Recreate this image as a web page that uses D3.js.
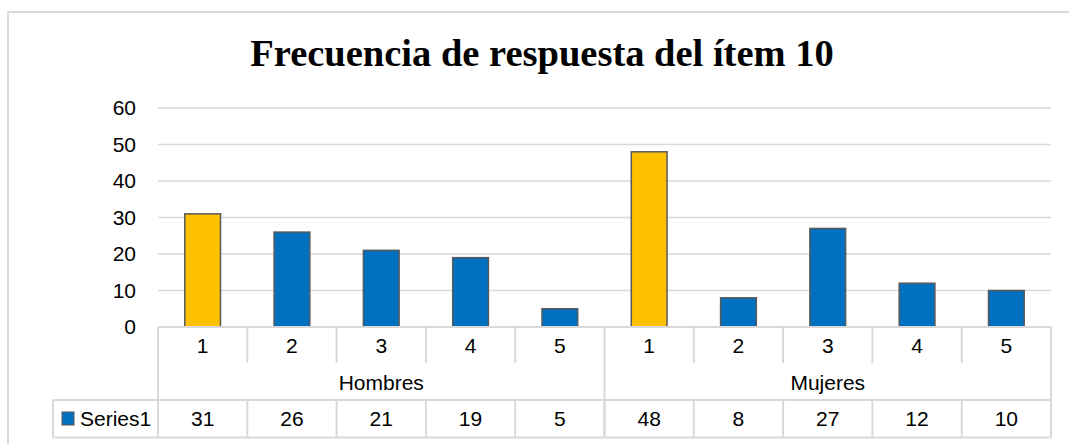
<!DOCTYPE html>
<html>
<head>
<meta charset="utf-8">
<script src="https://cdn.jsdelivr.net/npm/d3@7"></script>
<style>
  body { margin: 0; background: #fff; }
  text { font-family: "Liberation Sans", Arial, sans-serif; fill: #000; }
</style>
</head>
<body>
<div id="chart"></div>
<script>
// datos del gráfico
const groups = ["Hombres", "Mujeres"];
const items = ["1", "2", "3", "4", "5"];
const hombres = [31, 26, 21, 19, 5];
const mujeres = [48, 8, 27, 12, 10];
const highlightItem = "1";
const yTicks = [0, 10, 20, 30, 40, 50, 60];
const seriesName = "Series1";
const title = "Frecuencia de respuesta del ítem 10";

const width = 1069;
const height = 444;
const plotLeft = 158, plotRight = 1051;
const plotTop = 108, base = 327;
const row1 = 363, row2 = 400, row3 = 437.5;
const legendLeft = 53;
const gridColor = "#d9d9d9";
const labelSize = "21px";

const data = [];
groups.forEach((g, gi) => {
  const vals = gi === 0 ? hombres : mujeres;
  items.forEach((it, i) => data.push({ group: g, item: it, key: g + "-" + it, value: vals[i] }));
});

const svg = d3.select("#chart").append("svg")
  .attr("width", width)
  .attr("height", height);

// borde exterior
svg.append("rect")
  .attr("x", 8).attr("y", 12)
  .attr("width", 1100).attr("height", 500)
  .attr("fill", "none")
  .attr("stroke", gridColor)
  .attr("stroke-width", 2);

svg.append("text")
  .attr("x", 542).attr("y", 66)
  .attr("text-anchor", "middle")
  .style("font-family", "'Liberation Serif', 'Times New Roman', serif")
  .style("font-weight", "bold")
  .style("font-size", "38.5px")
  .text(title);

const x = d3.scaleBand()
  .domain(data.map(d => d.key))
  .range([plotLeft, plotRight])
  .paddingInner(0.6)
  .paddingOuter(0.3);
const step = x.step();

const y = d3.scaleLinear().domain([0, 60]).range([base, plotTop]);

// líneas de cuadrícula
svg.append("g")
  .selectAll("line")
  .data(yTicks.filter(t => t > 0))
  .join("line")
  .attr("x1", plotLeft).attr("x2", plotRight)
  .attr("y1", d => y(d)).attr("y2", d => y(d))
  .attr("stroke", gridColor)
  .attr("stroke-width", 1.5);

// eje y
const yAxis = svg.append("g")
  .attr("transform", `translate(${plotLeft},0)`)
  .call(d3.axisLeft(y).tickValues(yTicks).tickSize(0).tickPadding(22));
yAxis.select(".domain").remove();
yAxis.selectAll("text")
  .style("font-size", labelSize)
  .style("font-family", "'Liberation Sans', Arial, sans-serif");

// barras
svg.append("g")
  .selectAll("rect")
  .data(data)
  .join("rect")
  .attr("x", d => x(d.key))
  .attr("width", x.bandwidth())
  .attr("y", d => y(d.value))
  .attr("height", d => y(0) - y(d.value))
  .attr("fill", d => d.item === highlightItem ? "#ffc000" : "#0070c0")
  .attr("stroke", "#595959")
  .attr("stroke-width", 1.5);

// tabla de datos
const table = svg.append("g")
  .attr("stroke", gridColor)
  .attr("stroke-width", 2);

const edge = d => x(d.key) - (step - x.bandwidth()) / 2;

table.append("line").attr("x1", plotLeft).attr("x2", plotRight).attr("y1", base).attr("y2", base);
table.append("line").attr("x1", legendLeft).attr("x2", plotRight).attr("y1", row2).attr("y2", row2);
table.append("line").attr("x1", legendLeft).attr("x2", plotRight).attr("y1", row3).attr("y2", row3);
table.append("line").attr("x1", legendLeft).attr("x2", legendLeft).attr("y1", row2).attr("y2", row3);
table.append("line").attr("x1", plotRight).attr("x2", plotRight).attr("y1", base).attr("y2", row3);

table.append("g").selectAll("line")
  .data(data)
  .join("line")
  .attr("x1", d => edge(d)).attr("x2", d => edge(d))
  .attr("y1", base)
  .attr("y2", d => d.item === items[0] ? row3 : row1);

table.append("g").selectAll("line")
  .data(data)
  .join("line")
  .attr("x1", d => edge(d)).attr("x2", d => edge(d))
  .attr("y1", row2).attr("y2", row3);

const labels = svg.append("g")
  .attr("text-anchor", "middle")
  .style("font-size", labelSize);

labels.append("g").selectAll("text")
  .data(data)
  .join("text")
  .attr("x", d => x(d.key) + x.bandwidth() / 2)
  .attr("y", (base + row1) / 2)
  .attr("dy", "0.36em")
  .text(d => d.item);

labels.append("g").selectAll("text")
  .data(groups)
  .join("text")
  .attr("x", g => {
    const ks = data.filter(d => d.group === g);
    return (edge(ks[0]) + edge(ks[ks.length - 1]) + step) / 2;
  })
  .attr("y", (row1 + row2) / 2 + 1)
  .attr("dy", "0.36em")
  .text(g => g);

labels.append("g").selectAll("text")
  .data(data)
  .join("text")
  .attr("x", d => x(d.key) + x.bandwidth() / 2)
  .attr("y", (row2 + row3) / 2)
  .attr("dy", "0.36em")
  .text(d => d.value);

// leyenda
svg.append("rect")
  .attr("x", 62).attr("y", 412)
  .attr("width", 12).attr("height", 13)
  .attr("fill", "#0070c0")
  .attr("stroke", "#595959")
  .attr("stroke-width", 1);
svg.append("text")
  .attr("x", 80).attr("y", (row2 + row3) / 2)
  .attr("dy", "0.36em")
  .style("font-size", labelSize)
  .text(seriesName);
</script>
</body>
</html>
